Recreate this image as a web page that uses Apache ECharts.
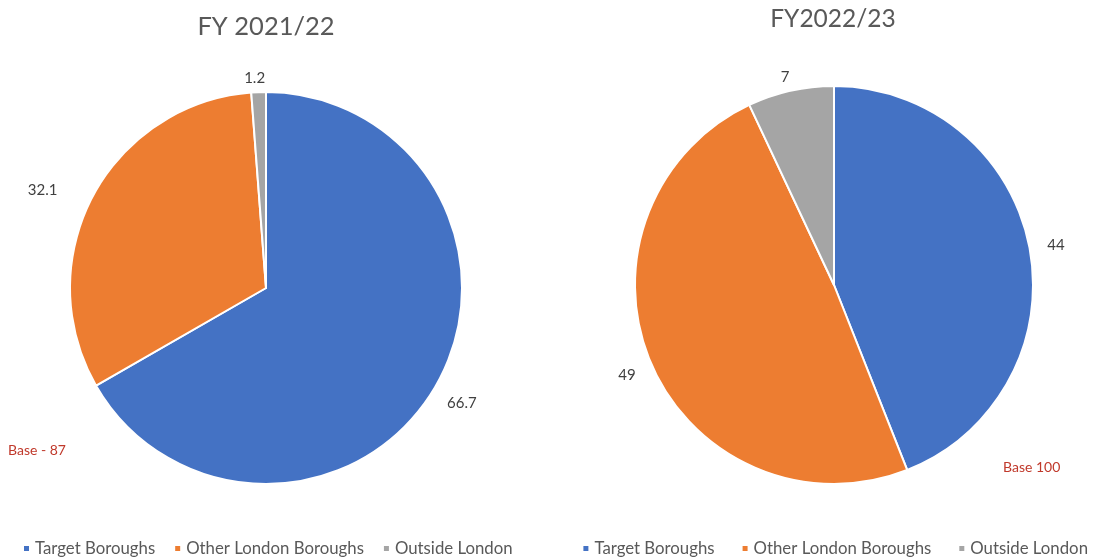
<!DOCTYPE html>
<html>
<head>
<meta charset="utf-8">
<script src="https://cdn.jsdelivr.net/npm/echarts@6/dist/echarts.min.js"></script>
<style>
  html, body { margin: 0; padding: 0; background: #ffffff; }
  #chart { width: 1098px; height: 559px; }
</style>
</head>
<body>
<div id="chart"></div>
<script>
// Residence of participants by area, two financial years
const categories = ['Target Boroughs', 'Other London Boroughs', 'Outside London'];
const colors = ['#4472C4', '#ED7D31', '#A5A5A5'];
const values2122 = [66.7, 32.1, 1.2];
const values2223 = [44, 49, 7];
const titles = ['FY 2021/22', 'FY2022/23'];
const baseNotes = ['Base - 87', 'Base 100'];

const FONT = 'Lato, "Open Sans", sans-serif';

// arms: per-slice label arm tweaks (slice index -> labelLine lengths, px)
function pieSeries(values, center, radius, arms) {
  const data = categories.map((name, i) => {
    const item = { name: name, value: values[i], itemStyle: { color: colors[i] } };
    if (arms && arms[i]) item.labelLine = arms[i];
    return item;
  });
  return {
    type: 'pie',
    center: center,
    radius: radius,
    startAngle: 90,
    clockwise: true,
    avoidLabelOverlap: false,
    animation: false,
    itemStyle: { borderColor: '#ffffff', borderWidth: 2 },
    label: {
      show: true,
      position: 'outside',
      color: '#404040',
      fontFamily: FONT,
      fontSize: 15,
      distanceToLabelLine: 4,
      formatter: p => String(p.value)
    },
    labelLine: { show: false, length: 14, length2: 0 },
    emphasis: { disabled: true },
    data: data
  };
}

function legend(pos, gap) {
  return Object.assign({
    top: 540,
    padding: 0,
    icon: 'rect',
    itemWidth: 7,
    itemHeight: 7,
    itemGap: gap,
    textStyle: { color: '#595959', fontFamily: FONT, fontSize: 16.8 },
    data: categories
  }, pos);
}

const chart = echarts.init(document.getElementById('chart'), null, { renderer: 'canvas' });
chart.setOption({
  backgroundColor: '#ffffff',
  title: [
    { text: titles[0], left: 266, top: 14, padding: 0, textAlign: 'center',
      textStyle: { color: '#595959', fontFamily: FONT, fontSize: 25.5, fontWeight: 'normal' } },
    { text: titles[1], left: 833, top: 7, padding: 0, textAlign: 'center',
      textStyle: { color: '#595959', fontFamily: FONT, fontSize: 24.5, fontWeight: 'normal' } }
  ],
  legend: [legend({ left: 22 }, 18), legend({ right: 10 }, 26)],
  series: [
    pieSeries(values2122, [266, 288], 196, {
      0: { length: 34, length2: -22 },
      1: { length2: 19 },
      2: { length2: -11 }
    }),
    pieSeries(values2223, [834, 285], 199, {
      1: { length: 27, length2: -13 },
      2: { length2: -6 }
    })
  ],
  graphic: [
    { type: 'text', left: 8, top: 443,
      style: { text: baseNotes[0], fill: '#C0392B', font: '14px ' + FONT } },
    { type: 'text', left: 1003, top: 460,
      style: { text: baseNotes[1], fill: '#C0392B', font: '14px ' + FONT } }
  ]
});
</script>
</body>
</html>
